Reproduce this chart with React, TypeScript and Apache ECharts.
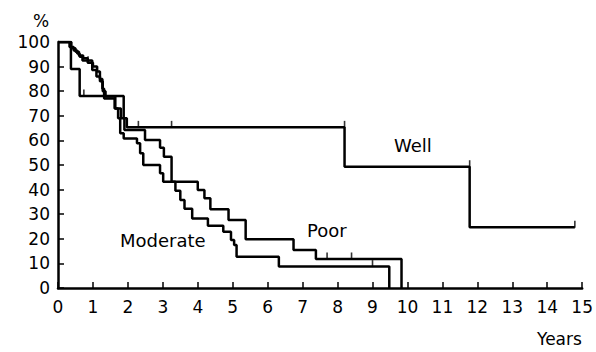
import React, { useEffect, useRef } from "react";
import * as echarts from "echarts";

const xTicks = [0, 15];
const yTicks = [0, 100];

const wellTimes = [0, 0.37, 0.62, 1.88, 1.97, 8.2, 11.78, 14.79];
const wellSurv = [100, 89, 78, 69, 65.3, 49.3, 24.7, 24.7];

const poorTimes = [0, 0.38, 0.5, 0.6, 0.72, 0.85, 1.0, 1.12, 1.2, 1.27, 1.32, 1.62, 1.72, 1.78, 1.88, 2.26, 2.35, 2.44, 2.92, 3.01, 4.0, 4.19, 4.36, 4.88, 5.37, 6.74, 7.38, 9.83, 9.83];
const poorSurv = [100, 97.5, 96, 94.5, 93.4, 91.6, 90, 88, 85, 81, 77, 73, 69, 62.9, 60.8, 58.8, 54.8, 50, 46.6, 43.2, 39.8, 36.5, 32, 27.6, 19.8, 15.4, 11.8, 11.8, 0];

const modTimes = [0, 0.33, 0.45, 0.55, 0.62, 0.7, 0.98, 1.1, 1.2, 1.28, 1.36, 1.64, 1.8, 1.9, 2.49, 2.92, 3.03, 3.25, 3.36, 3.5, 3.62, 3.84, 4.29, 4.73, 4.95, 5.04, 5.11, 6.32, 9.48, 9.48];
const modSurv = [100, 98, 96.5, 95.3, 94, 92.5, 88.6, 86, 84, 80, 77.8, 73, 69, 64.2, 60.2, 57, 53.4, 43.2, 39.5, 35.8, 32.2, 28.3, 25.3, 22.9, 19.5, 17.5, 12.7, 8.7, 8.7, 0];

const wellCensorT = [0.74, 2.3, 3.25, 8.2, 11.78, 14.79];
const wellCensorS = [78, 65.3, 65.3, 65.3, 49.3, 24.7];
const poorCensorT = [0.86, 7.7, 8.4];
const poorCensorS = [91.6, 11.8, 11.8];
const modCensorT = [9.0];
const modCensorS = [8.7];

const zip = (a: number[], b: number[]) => a.map((t, i) => [t, b[i]]);

const FONT = "DejaVu Sans";

export default function App() {
  const ref = useRef<HTMLDivElement>(null);
  useEffect(() => {
    if (!ref.current) return;
    const chart = echarts.init(ref.current, null, { renderer: "svg" });
    const stepSeries = (name: string, t: number[], s: number[]) => ({
      name,
      type: "line",
      step: "end",
      showSymbol: false,
      data: zip(t, s),
      lineStyle: { color: "#000", width: 2.5 },
      itemStyle: { color: "#000" },
    });
    const censor = (t: number[], s: number[]) => ({
      type: "scatter",
      symbol: "rect",
      symbolSize: [1.6, 7],
      symbolOffset: [0, -3],
      itemStyle: { color: "#000" },
      data: zip(t, s),
    });
    chart.setOption({
      animation: false,
      backgroundColor: "#fff",
      grid: { left: 58, right: 9.5, top: 42, bottom: 64 },
      xAxis: {
        type: "value",
        min: xTicks[0],
        max: xTicks[1],
        interval: 1,
        axisLine: { lineStyle: { color: "#000", width: 2.5 } },
        axisTick: { inside: true, length: 6, lineStyle: { color: "#000", width: 1.5 } },
        axisLabel: { color: "#000", fontFamily: FONT, fontSize: 17, margin: 10 },
        splitLine: { show: false },
      },
      yAxis: {
        type: "value",
        min: yTicks[0],
        max: yTicks[1],
        interval: 10,
        axisLine: { show: true, lineStyle: { color: "#000", width: 2.5 } },
        axisTick: { show: true, inside: true, length: 6, lineStyle: { color: "#000", width: 1.5 } },
        axisLabel: { color: "#000", fontFamily: FONT, fontSize: 17, margin: 8 },
        splitLine: { show: false },
      },
      series: [
        stepSeries("Well", wellTimes, wellSurv),
        stepSeries("Poor", poorTimes, poorSurv),
        stepSeries("Moderate", modTimes, modSurv),
        censor(wellCensorT, wellCensorS),
        censor(poorCensorT, poorCensorS),
        censor(modCensorT, modCensorS),
      ],
      graphic: [
        { type: "text", left: 33, top: 12, style: { text: "%", fill: "#000", font: `17px '${FONT}'` } },
        { type: "text", left: 537, top: 330, style: { text: "Years", fill: "#000", font: `17px '${FONT}'` } },
        { type: "text", left: 394, top: 136, style: { text: "Well", fill: "#000", font: `18px '${FONT}'` } },
        { type: "text", left: 307, top: 221, style: { text: "Poor", fill: "#000", font: `18px '${FONT}'` } },
        { type: "text", left: 120, top: 231, style: { text: "Moderate", fill: "#000", font: `18px '${FONT}'` } },
      ],
    });
    return () => chart.dispose();
  }, []);
  return (
    <div
      ref={ref}
      style={{ position: "absolute", left: 0, top: 0, width: 596, height: 352 }}
    />
  );
}
